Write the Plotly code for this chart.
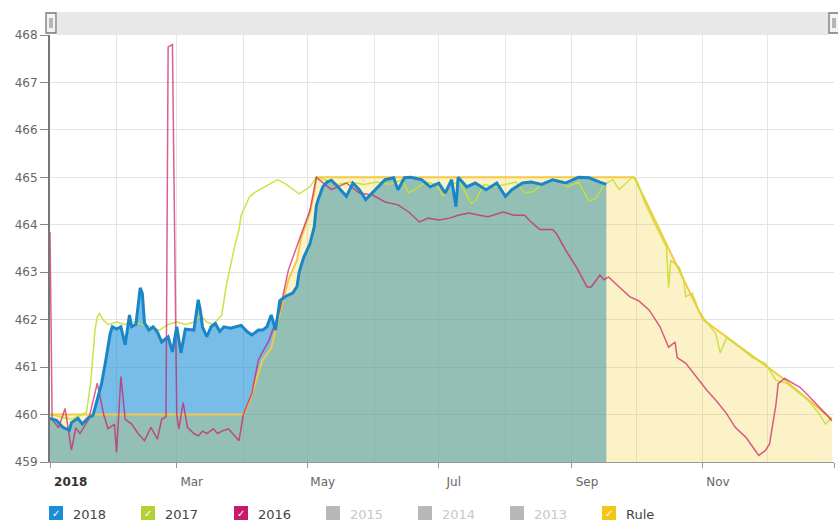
import plotly.graph_objects as go

# ---------------- data ----------------
dates_2018 = ["2018-01-01","2018-01-04","2018-01-07","2018-01-10","2018-01-11","2018-01-14","2018-01-16",
    "2018-01-19","2018-01-21","2018-01-23","2018-01-25","2018-01-27","2018-01-28","2018-01-29","2018-01-30",
    "2018-02-01","2018-02-03","2018-02-05","2018-02-07","2018-02-08","2018-02-10","2018-02-12","2018-02-13",
    "2018-02-14","2018-02-16","2018-02-18","2018-02-20","2018-02-22","2018-02-25","2018-02-27","2018-03-01",
    "2018-03-03","2018-03-05","2018-03-09","2018-03-11","2018-03-12","2018-03-13","2018-03-15","2018-03-17",
    "2018-03-19","2018-03-21","2018-03-23","2018-03-26","2018-03-29","2018-03-31","2018-04-03","2018-04-05",
    "2018-04-08","2018-04-10","2018-04-12","2018-04-14","2018-04-16","2018-04-18","2018-04-21","2018-04-24",
    "2018-04-26","2018-04-27","2018-04-29","2018-05-01","2018-05-02","2018-05-04","2018-05-05","2018-05-06",
    "2018-05-07","2018-05-08","2018-05-10","2018-05-12","2018-05-15","2018-05-19","2018-05-22","2018-05-25",
    "2018-05-28","2018-05-31","2018-06-03","2018-06-06","2018-06-10","2018-06-12","2018-06-15","2018-06-18",
    "2018-06-23","2018-06-27","2018-07-01","2018-07-04","2018-07-07","2018-07-09","2018-07-10","2018-07-14",
    "2018-07-18","2018-07-23","2018-07-28","2018-08-01","2018-08-04","2018-08-09","2018-08-13","2018-08-18",
    "2018-08-23","2018-08-29","2018-09-04","2018-09-09","2018-09-14","2018-09-17"]
level_2018 = [459.92,459.88,459.73,459.67,459.83,459.92,459.80,
    459.94,459.98,460.30,460.65,461.15,461.45,461.70,461.85,
    461.80,461.85,461.47,462.10,461.85,461.90,462.67,462.55,
    461.93,461.78,461.85,461.74,461.53,461.64,461.32,461.85,
    461.30,461.80,461.78,462.42,462.20,461.85,461.64,461.85,
    461.92,461.75,461.85,461.82,461.85,461.88,461.74,461.68,
    461.78,461.78,461.85,462.10,461.78,462.40,462.50,462.56,
    462.70,463.00,463.30,463.50,463.60,463.95,464.40,464.55,
    464.70,464.80,464.90,464.94,464.80,464.60,464.88,464.74,
    464.53,464.67,464.80,464.95,464.99,464.74,464.99,465.00,
    464.95,464.80,464.88,464.67,464.95,464.38,465.00,464.80,
    464.88,464.74,464.88,464.60,464.74,464.88,464.90,464.85,
    464.95,464.88,465.00,464.99,464.90,464.85]

dates_2017 = ["2018-01-01","2018-01-06","2018-01-11","2018-01-16","2018-01-18","2018-01-20","2018-01-22",
    "2018-01-23","2018-01-24","2018-01-26","2018-01-28","2018-02-01","2018-02-05","2018-02-09","2018-02-13",
    "2018-02-17","2018-02-21","2018-02-25","2018-03-01","2018-03-05","2018-03-09","2018-03-12","2018-03-15",
    "2018-03-18","2018-03-21","2018-03-22","2018-03-24","2018-03-26","2018-03-28","2018-03-30","2018-03-31",
    "2018-04-02","2018-04-04","2018-04-07","2018-04-11","2018-04-17","2018-04-21","2018-04-27","2018-05-02",
    "2018-05-05","2018-05-09","2018-05-15","2018-05-21","2018-05-27","2018-06-02","2018-06-08","2018-06-14",
    "2018-06-17","2018-06-20","2018-06-25","2018-06-30","2018-07-03","2018-07-06","2018-07-11","2018-07-16",
    "2018-07-18","2018-07-22","2018-07-27","2018-08-01","2018-08-06","2018-08-10","2018-08-14","2018-08-19",
    "2018-08-25","2018-08-30","2018-09-04","2018-09-09","2018-09-12","2018-09-16","2018-09-20","2018-09-23",
    "2018-09-26","2018-09-29","2018-10-01","2018-10-05","2018-10-08","2018-10-11","2018-10-15","2018-10-16",
    "2018-10-17","2018-10-21","2018-10-23","2018-10-24","2018-10-27","2018-10-30","2018-11-02","2018-11-07",
    "2018-11-09","2018-11-12","2018-11-18","2018-11-24","2018-11-30","2018-12-03","2018-12-05","2018-12-10",
    "2018-12-16","2018-12-20","2018-12-25","2018-12-28","2018-12-31"]
level_2017 = [460.00,459.95,459.90,460.00,460.05,460.70,461.80,
    462.05,462.13,461.98,461.90,461.95,461.90,461.95,461.90,
    461.85,461.78,461.90,461.95,461.90,461.95,462.10,461.95,
    461.90,462.05,462.10,462.70,463.15,463.55,463.90,464.20,
    464.40,464.60,464.70,464.80,464.95,464.85,464.65,464.80,
    465.00,464.95,464.85,464.90,464.85,464.90,464.85,464.95,
    464.67,464.75,464.90,464.85,464.60,464.85,464.90,464.45,
    464.50,464.85,464.80,464.85,464.90,464.67,464.70,464.90,
    464.95,464.80,464.90,464.50,464.55,464.85,464.95,464.74,
    464.88,465.00,464.95,464.46,464.17,463.90,463.53,462.68,
    463.25,463.10,462.84,462.48,462.56,462.20,461.99,461.70,
    461.30,461.62,461.42,461.20,461.08,460.87,460.72,460.66,
    460.45,460.30,460.02,459.80,459.94]

dates_2016 = ["2018-01-01","2018-01-02","2018-01-05","2018-01-08","2018-01-11","2018-01-13","2018-01-15",
    "2018-01-19","2018-01-23","2018-01-26","2018-01-28","2018-01-31","2018-02-01","2018-02-03","2018-02-05",
    "2018-02-08","2018-02-11","2018-02-14","2018-02-17","2018-02-20","2018-02-22","2018-02-24","2018-02-25",
    "2018-02-27","2018-03-01","2018-03-02","2018-03-04","2018-03-06","2018-03-09","2018-03-11","2018-03-13",
    "2018-03-15","2018-03-18","2018-03-20","2018-03-22","2018-03-25","2018-03-27","2018-03-30","2018-04-01",
    "2018-04-05","2018-04-08","2018-04-13","2018-04-18","2018-04-22","2018-04-27","2018-05-02","2018-05-05",
    "2018-05-12","2018-05-19","2018-05-25","2018-05-31","2018-06-06","2018-06-12","2018-06-17","2018-06-22",
    "2018-06-26","2018-07-01","2018-07-06","2018-07-10","2018-07-15","2018-07-20","2018-07-24","2018-07-31",
    "2018-08-05","2018-08-10","2018-08-12","2018-08-17","2018-08-23","2018-08-25","2018-08-29","2018-09-03",
    "2018-09-08","2018-09-10","2018-09-14","2018-09-16","2018-09-18","2018-09-22","2018-09-26","2018-09-28",
    "2018-10-02","2018-10-07","2018-10-12","2018-10-16","2018-10-19","2018-10-20","2018-10-24","2018-10-29",
    "2018-11-03","2018-11-07","2018-11-12","2018-11-16","2018-11-21","2018-11-26","2018-11-27","2018-11-30",
    "2018-12-02","2018-12-05","2018-12-06","2018-12-09","2018-12-12","2018-12-16","2018-12-19","2018-12-24",
    "2018-12-28","2018-12-31"]
level_2016 = [463.85,459.90,459.72,460.13,459.25,459.72,459.60,
    459.90,460.66,460.00,459.70,459.80,459.20,460.80,459.90,
    459.80,459.60,459.45,459.73,459.48,459.90,459.95,467.75,
    467.80,460.00,459.70,460.25,459.73,459.60,459.55,459.65,
    459.60,459.70,459.60,459.65,459.70,459.60,459.45,460.00,
    460.45,461.15,461.57,462.20,463.05,463.68,464.30,465.00,
    464.74,464.88,464.67,464.63,464.48,464.42,464.27,464.06,
    464.14,464.10,464.14,464.20,464.25,464.20,464.17,464.27,
    464.20,464.20,464.10,463.90,463.90,463.80,463.47,463.11,
    462.69,462.69,462.94,462.84,462.90,462.73,462.56,462.48,
    462.40,462.20,461.85,461.42,461.53,461.20,461.08,460.79,
    460.50,460.30,460.02,459.73,459.52,459.20,459.14,459.24,
    459.38,460.22,460.65,460.76,460.68,460.58,460.45,460.22,
    460.02,459.87]

dates_rule = ["2018-01-01","2018-04-01","2018-04-04","2018-04-10","2018-04-14","2018-04-17","2018-04-19",
    "2018-04-22","2018-04-26","2018-04-28","2018-05-02","2018-05-04","2018-05-05","2018-09-30","2018-11-01",
    "2018-12-08","2018-12-31"]
level_rule = [460.0,460.0,460.3,461.15,461.4,461.98,462.33,
    462.84,463.26,463.74,464.25,464.67,465.0,465.0,462.0,
    460.77,459.9]

tick_dates = ["2018-01-01","2018-03-01","2018-05-01","2018-07-01","2018-09-01","2018-11-01","2019-01-01"]
tick_labels = ["\u00a0\u00a0\u00a0<b style='color:#333'>2018</b>","Mar","May","Jul","Sep","Nov",""]

legend_names = ["2018","2017","2016","2015","2014","2013","Rule"]
legend_colors = ["#1a8fd6","#b2d234","#c8196f","#b8b8b8","#b8b8b8","#b8b8b8","#f5c518"]
legend_active = [True,True,True,False,False,False,True]

# ---------------- figure ----------------
fig = go.Figure()
fig.add_trace(go.Scatter(x=dates_2018, y=level_2018, mode="lines", fill="tozeroy",
                         fillcolor="rgba(30,145,215,0.6)", line=dict(width=0), hoverinfo="skip"))
fig.add_trace(go.Scatter(x=dates_rule, y=level_rule, mode="lines", fill="tozeroy",
                         fillcolor="rgba(242,198,16,0.23)", line=dict(width=0), hoverinfo="skip"))
fig.add_trace(go.Scatter(x=dates_rule, y=level_rule, mode="lines", name="Rule",
                         line=dict(color="#f6c944", width=2)))
fig.add_trace(go.Scatter(x=dates_2017, y=level_2017, mode="lines", name="2017",
                         line=dict(color="rgba(200,224,50,0.9)", width=1.5)))
fig.add_trace(go.Scatter(x=dates_2016, y=level_2016, mode="lines", name="2016",
                         line=dict(color="rgba(205,25,100,0.7)", width=1.5)))
fig.add_trace(go.Scatter(x=dates_2018, y=level_2018, mode="lines", name="2018",
                         line=dict(color="#1a86c8", width=3)))

PLOT_L, PLOT_R, PLOT_T, PLOT_B = 50, 834, 35, 462
W, H = 838, 526
def px(xp):
    return (xp - PLOT_L) / (PLOT_R - PLOT_L)
def py(yp):
    return (PLOT_B - yp) / (PLOT_B - PLOT_T)

shapes = []
annotations = []
# navigator bar on top
shapes.append(dict(type="rect", xref="paper", yref="paper", x0=px(57), x1=px(829), y0=py(35), y1=py(12),
                   fillcolor="#e8e8e8", line=dict(width=0), layer="above"))
for hx in (46, 829):
    shapes.append(dict(type="rect", xref="paper", yref="paper", x0=px(hx), x1=px(hx + 10), y0=py(33), y1=py(13),
                       fillcolor="#f4f4f4", line=dict(color="#777", width=1.3), layer="above"))
    for lx in (hx + 4, hx + 6):
        shapes.append(dict(type="line", xref="paper", yref="paper", x0=px(lx), x1=px(lx), y0=py(28), y1=py(18),
                           line=dict(color="#777", width=1), layer="above"))

# custom legend
sq_x = [49, 141, 234, 326, 418, 510, 602]
for i, name in enumerate(legend_names):
    x0 = sq_x[i]
    shapes.append(dict(type="rect", xref="paper", yref="paper", x0=px(x0), x1=px(x0 + 14), y0=py(520), y1=py(506),
                       fillcolor=legend_colors[i], line=dict(width=0)))
    if legend_active[i]:
        annotations.append(dict(xref="paper", yref="paper", x=px(x0 + 7), y=py(513), text="✓", showarrow=False,
                                font=dict(color="white", size=10, family="DejaVu Sans"),
                                xanchor="center", yanchor="middle"))
    annotations.append(dict(xref="paper", yref="paper", x=px(x0 + 22), y=py(514), text=name, showarrow=False,
                            font=dict(color="#444" if legend_active[i] else "#c8c8c8", size=13, family="DejaVu Sans"),
                            xanchor="left", yanchor="middle"))

fig.update_layout(
    width=W, height=H,
    margin=dict(l=PLOT_L, r=W - PLOT_R, t=PLOT_T, b=H - PLOT_B),
    plot_bgcolor="white", paper_bgcolor="white",
    showlegend=False,
    font=dict(family="DejaVu Sans", size=12, color="#666"),
    shapes=shapes, annotations=annotations,
    xaxis=dict(type="date", range=["2018-01-01", "2019-01-01"],
               tickmode="array", tickvals=tick_dates, ticktext=tick_labels,
               ticks="outside", ticklen=5, tickcolor="#999",
               ticklabelshift=15, ticklabelstandoff=4,
               showgrid=True, gridcolor="#e6e6e6",
               minor=dict(dtick="M1", tick0="2018-01-01", showgrid=True, gridcolor="#e6e6e6", ticks=""),
               showline=True, linecolor="#999", linewidth=1, zeroline=False,
               tickfont=dict(size=12, color="#666")),
    yaxis=dict(range=[459, 468], dtick=1, tick0=459,
               ticks="outside", ticklen=8, tickcolor="#888",
               showgrid=True, gridcolor="#e3e3e3",
               showline=True, linecolor="#777", linewidth=2, zeroline=False,
               tickfont=dict(size=12, color="#666")),
)

fig.write_html("out.html",
               config={"displayModeBar": False},
               post_script="document.body.style.margin='0px';document.body.style.overflow='hidden';")
